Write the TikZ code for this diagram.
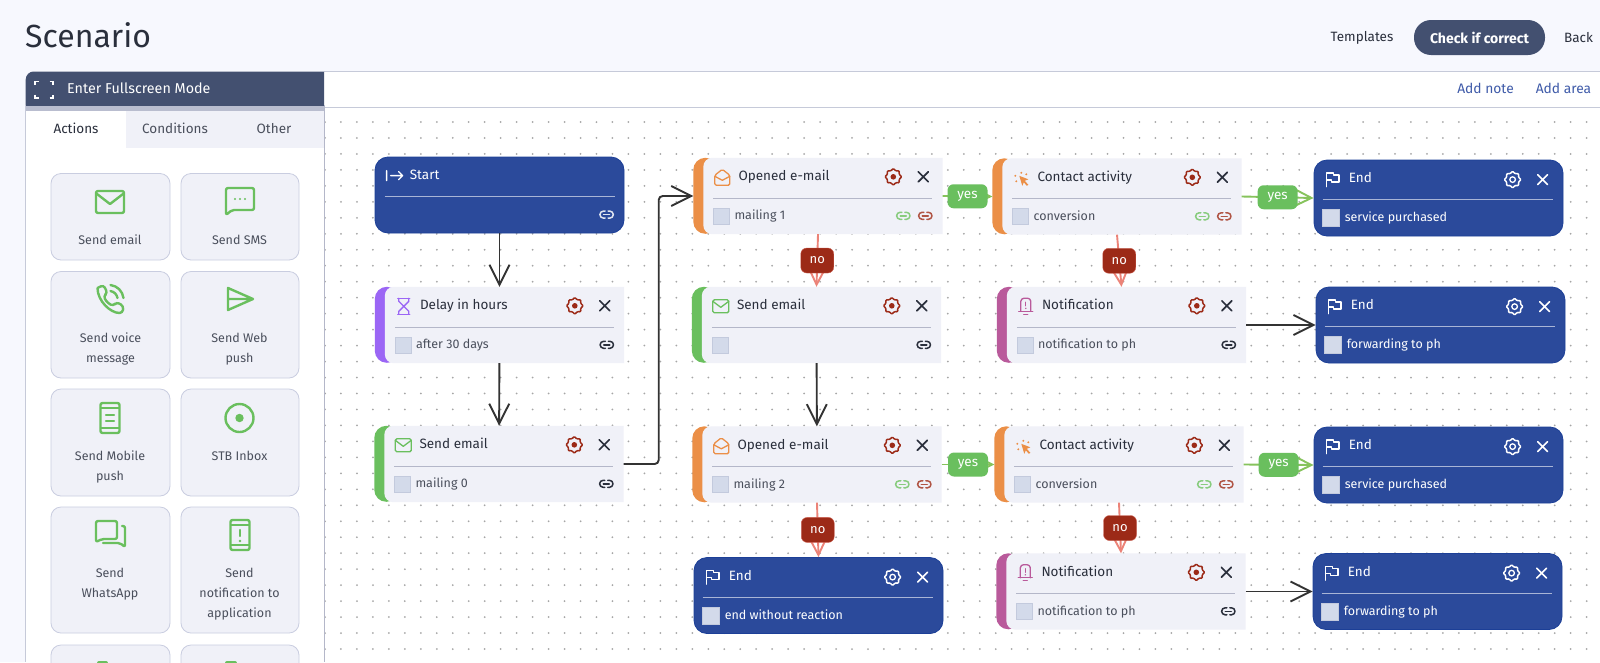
\documentclass[tikz,border=0pt]{standalone}
\usepackage{fontspec}
\setmainfont{Fira Sans}
\usetikzlibrary{arrows.meta}
\definecolor{pagebg}{HTML}{F7F8FE}
\definecolor{headbg}{HTML}{435070}
\definecolor{stripebg}{HTML}{B9BDCF}
\definecolor{edgegray}{HTML}{C6CAD9}
\definecolor{stepbg}{HTML}{F0F1F8}
\definecolor{btnedge}{HTML}{C9CDE0}
\definecolor{chkbg}{HTML}{D3DAEA}
\definecolor{chkedge}{HTML}{C3CADD}
\definecolor{inkdark}{HTML}{2A2F3C}
\definecolor{inkgray}{HTML}{4A4F5C}
\definecolor{addblue}{HTML}{3F5BA9}
\definecolor{endblue}{HTML}{2B4A9B}
\definecolor{endedge}{HTML}{1C3F97}
\definecolor{sepblue}{HTML}{A9B5D6}
\definecolor{sepgray}{HTML}{B4B7C9}
\definecolor{mailgreen}{HTML}{6ABF5E}
\definecolor{openorange}{HTML}{EB8F47}
\definecolor{delaypurple}{HTML}{9B66F5}
\definecolor{notepink}{HTML}{B95A9B}
\definecolor{noyred}{HTML}{9C2A17}
\definecolor{nosalmon}{HTML}{EC8378}
\definecolor{yesline}{HTML}{86C35C}
\definecolor{arrowink}{HTML}{333333}
\tikzset{
  x=1pt,y=-1pt,
  flowtip/.style={-{Straight Barb[length=20pt,width=20pt,line width=1.9pt]}},
  blackflow/.style={flowtip,draw=arrowink,line width=1.9pt},
  yesflow/.style={flowtip,draw=yesline,line width=1.9pt},
  noflow/.style={flowtip,draw=nosalmon,line width=1.9pt},
  yesbadge/.style={fill=mailgreen,text=white,rounded corners=6pt,minimum width=40pt,minimum height=24pt,inner sep=0pt,font=\fontsize{13.5}{15}\selectfont},
  nobadge/.style={fill=noyred,draw=nosalmon!60!noyred,line width=.4pt,text=white,rounded corners=6pt,minimum width=33pt,minimum height=25pt,inner sep=0pt,font=\fontsize{13}{15}\selectfont},
  stepbody/.style={minimum width=249pt,minimum height=76pt,inner sep=0pt},
  endbody/.style={stepbody,fill=endblue,draw=endedge,line width=.8pt,rounded corners=13pt},
  lefttext/.style={anchor=west,inner sep=0pt,text height=9pt,text depth=3pt},
  steptitle/.style={lefttext,text=inkdark,font=\fontsize{13.5}{15}\selectfont},
  stepvalue/.style={lefttext,text=inkgray,font=\fontsize{12.5}{15}\selectfont},
  endtitle/.style={steptitle,text=white},
  endvalue/.style={stepvalue,text=white},
  btntext/.style={align=center,inner sep=0pt,text=inkgray,font=\fontsize{12.5}{20}\selectfont},
  tabtext/.style={inner sep=0pt,text=inkgray,font=\fontsize{13.5}{15}\selectfont},
  toptext/.style={inner sep=0pt,text=inkdark,font=\fontsize{13.5}{15}\selectfont},
  icon/.style={line width=2.4pt,line join=round,line cap=round},
  thinicon/.style={line width=1.3pt,line join=round,line cap=round},
  % large icons of the side panel
  mailicon/.pic={
    \draw[icon,rounded corners=2pt] (-14,-11) rectangle (14,11);
    \draw[icon] (-13,-8) -- (0,2) -- (13,-8);
  },
  smsicon/.pic={
    \draw[icon,rounded corners=2pt] (-14,-12) -- (14,-12) -- (14,10) -- (-8,10) -- (-14,15) -- cycle;
    \foreach \dotx in {-5,0,5} \fill (\dotx,-1) circle (1.1);
  },
  voiceicon/.pic={
    \draw[icon,rounded corners=3pt] (-13,-11) -- (-7,-14) -- (-3,-6) -- (-7,-3) .. controls (-4,3) and (-1,5) .. (3,7) -- (6,3) -- (13,7) -- (12,14) .. controls (0,14) and (-13,2) .. (-13,-11);
    \draw[icon] (0,-14) .. controls (7,-13) and (12,-8) .. (13,-1);
    \draw[icon] (0,-8) .. controls (4,-7) and (6,-5) .. (7,-1);
  },
  webicon/.pic={
    \draw[icon] (-12,-11) -- (13,0) -- (-12,11) -- cycle (-12,0) -- (13,0);
  },
  mobileicon/.pic={
    \draw[icon,rounded corners=2pt] (-9.5,-15) rectangle (9.5,15);
    \draw[icon] (-9,-10) -- (9,-10) (-9,10) -- (9,10) (-4,-3) -- (4,-3) (-4,3) -- (4,3);
  },
  targeticon/.pic={
    \draw[icon] (0,0) circle (14);
    \fill (0,0) circle (4.2);
  },
  chaticon/.pic={
    \draw[icon,rounded corners=2pt] (-14,-13) -- (7,-13) -- (7,5) -- (-8,5) -- (-14,8) -- cycle;
    \draw[icon,rounded corners=2pt] (12,-8) -- (15,-8) -- (15,13) -- (10,9) -- (-7,9);
  },
  alerticon/.pic={
    \draw[icon,rounded corners=2pt] (-9.5,-15) rectangle (9.5,15);
    \draw[icon] (-9,-10) -- (9,-10) (-9,10) -- (9,10);
    \draw[icon] (0,-5) -- (0,1);
    \fill (0,6) circle (1.4);
  },
  % small icons of the steps
  openicon/.pic={
    \draw[thinicon,rounded corners=1.5pt] (-7.5,-2) -- (0,-8) -- (7.5,-2) -- (7.5,8) -- (-7.5,8) -- cycle;
    \draw[thinicon] (-7.5,-1) -- (0,3) -- (7.5,-1);
  },
  smailicon/.pic={
    \draw[thinicon,rounded corners=1.5pt] (-8,-6.5) rectangle (8,6.5);
    \draw[thinicon] (-8,-5) -- (0,1) -- (8,-5);
  },
  delayicon/.pic={
    \draw[thinicon] (-6,-8) -- (6,-8) (-6,8) -- (6,8);
    \draw[thinicon] (-5,-8) -- (-5,-5) -- (5,5) -- (5,8) (5,-8) -- (5,-5) -- (-5,5) -- (-5,8);
  },
  activityicon/.pic={
    \fill (-2,-2) -- (7,1.5) -- (3.5,3) -- (7,7) -- (5.5,8) -- (2.5,4.5) -- (1,8) -- cycle;
    \foreach \dotx/\doty in {-6/-2,-5/3.5,0/-5,5/-3.5} \fill (\dotx,\doty) circle (1.1);
  },
  bellicon/.pic={
    \draw[thinicon,rounded corners=2pt] (-5,5) -- (-5,-3) .. controls (-5,-7) and (-3,-8) .. (0,-8) .. controls (3,-8) and (5,-7) .. (5,-3) -- (5,5);
    \draw[thinicon] (-7,5) -- (7,5);
    \draw[thinicon] (0,-4) -- (0,-.5);
    \fill (0,2) circle (.8);
    \draw[thinicon] (-2,8) -- (2,8);
  },
  flagicon/.pic={
    \draw[thinicon,line width=1.6pt] (-6,7) -- (-6,-6.5) -- (1,-6.5) -- (1,-4.5) -- (6.5,-4.5) -- (6.5,2.5) -- (-1,2.5) -- (-1,.5) -- (-6,.5);
  },
  starticon/.pic={
    \draw[thinicon] (-8,-5) -- (-8,5) (-4,0) -- (8,0) (4,-4) -- (8,0) -- (4,4);
  },
  gearicon/.pic={
    \draw[thinicon,line width=1.5pt,rounded corners=1pt] (0:8.5)
      -- (22.5:6.3) -- (45:8.5) -- (67.5:6.3) -- (90:8.5) -- (112.5:6.3) -- (135:8.5) -- (157.5:6.3)
      -- (180:8.5) -- (202.5:6.3) -- (225:8.5) -- (247.5:6.3) -- (270:8.5) -- (292.5:6.3) -- (315:8.5) -- (337.5:6.3) -- cycle;
  },
  reddot/.pic={\fill (0,0) circle (2.8);},
  whiteo/.pic={\draw[thinicon] (0,0) circle (2.8);},
  closeicon/.pic={
    \draw[thinicon,line width=1.6pt] (-5,-5) -- (5,5) (-5,5) -- (5,-5);
  },
  linkicon/.pic={
    \draw[thinicon,line width=1.5pt] (-1.5,-3.5) -- (-3.2,-3.5) arc (270:90:3.5) -- (-1.5,3.5);
    \draw[thinicon,line width=1.5pt] (1.5,-3.5) -- (3.2,-3.5) arc (-90:90:3.5) -- (1.5,3.5);
    \draw[thinicon,line width=1.5pt] (-3,0) -- (3,0);
  },
}
% a step with a coloured bar on its left
\newcommand{\stepnode}[7]{%
  \node[stepbody] (#1) at (#2) {};
  \fill[#3,rounded corners=12pt] (#1.north west) rectangle ++(24,76);
  \fill[stepbg] ([xshift=30pt]#1.north west) -- (#1.north east) -- (#1.south east)
    -- ([xshift=30pt]#1.south west) [rounded corners=9pt] -- ([xshift=10pt]#1.south west)
    -- ([xshift=10pt]#1.north west) -- cycle;
  \pic[#3] at ([shift={(29,19.5)}]#1.north west) {#4};
  \node[steptitle] (#1title) at ([shift={(45,20)}]#1.north west) {#5};
  \pic[noyred] at ([shift={(200,19)}]#1.north west) {gearicon};
  \pic[noyred] at ([shift={(200,19)}]#1.north west) {reddot};
  \pic[inkdark] at ([shift={(230,19)}]#1.north west) {closeicon};
  \draw[sepgray] ([shift={(20,40)}]#1.north west) -- ([shift={(239,40)}]#1.north west);
  \node[fill=chkbg,draw=chkedge,line width=.4pt,minimum size=16pt,inner sep=0pt] (#1box)
    at ([shift={(28,58)}]#1.north west) {};
  \node[stepvalue] (#1value) at ([shift={(41,59)}]#1.north west) {#6};
  \pic[#7] at ([shift={(232,58)}]#1.north west) {linkicon};
}
% a condition has two links
\newcommand{\condnode}[6]{%
  \stepnode{#1}{#2}{#3}{#4}{#5}{#6}{noyred!80!white}
  \pic[mailgreen!80!white] at ([shift={(210,58)}]#1.north west) {linkicon};
}
\newcommand{\finishnode}[3]{%
  \node[endbody] (#1) at (#2) {};
  \pic[white] at ([shift={(19,20)}]#1.north west) {flagicon};
  \node[endtitle] (#1title) at ([shift={(35,20)}]#1.north west) {End};
  \pic[white] at ([shift={(199,20)}]#1.north west) {gearicon};
  \pic[white] at ([shift={(199,20)}]#1.north west) {whiteo};
  \pic[white] at ([shift={(229,20)}]#1.north west) {closeicon};
  \draw[sepblue] ([shift={(9,40)}]#1.north west) -- ([shift={(239,40)}]#1.north west);
  \node[fill=chkbg,draw=chkedge,line width=.4pt,minimum size=17pt,inner sep=0pt] (#1box)
    at ([shift={(17.5,58.5)}]#1.north west) {};
  \node[endvalue] (#1value) at ([shift={(31,59)}]#1.north west) {#3};
}
\newcommand{\actionbtn}[7]{%
  \fill[stepbg,draw=btnedge,line width=.8pt,rounded corners=10pt] (#2) rectangle (#3);
  \pic[mailgreen] at (#4) {#5};
  \node[btntext,anchor=north] (#1) at (#6) {#7};
}
\begin{document}
\begin{tikzpicture}
  \useasboundingbox (0,0) rectangle (1600,662);
  \clip (0,0) rectangle (1600,662);
  \fill[pagebg] (0,0) rectangle (1600,662);
  %
  % Page header
  \node[inner sep=0pt,anchor=west,text=inkdark,font=\fontsize{32}{36}\selectfont] (pagetitle) at (25,35.5) {Scenario};
  \node[toptext] (templates) at (1362,38) {Templates};
  \node[fill=headbg,text=white,rounded corners=17pt,minimum width=131pt,minimum height=35pt,inner sep=0pt,
    font=\fontsize{14}{15}\selectfont\bfseries] (checkbtn) at (1479.5,37.5) {Check if correct};
  \node[toptext] (back) at (1578.5,37.5) {Back};
  %
  % Canvas
  \fill[white] (324,71.5) rectangle (1600,662);
  \draw[edgegray,line width=.8pt] (324,71.5) -- (1600,71.5);
  \draw[edgegray,line width=.8pt] (324,107.5) -- (1600,107.5);
  \node[inner sep=0pt,text=addblue,font=\fontsize{13.8}{15}\selectfont] (addnote) at (1485.5,88) {Add note};
  \node[inner sep=0pt,text=addblue,font=\fontsize{13.8}{15}\selectfont] (addarea) at (1563.5,88) {Add area};
  \foreach \i in {0,...,79}
    \foreach \j in {0,...,33}
      \fill[gray!70] ({325+15.97*\i},{122+15.97*\j}) circle (1);
  %
  % Side panel
  \fill[white] (25.7,105) rectangle (324,662);
  \fill[headbg] (324,106) -- (25.7,106) [rounded corners=8pt] -- (25.7,71.5) [sharp corners] -- (324,71.5) -- cycle;
  \fill[stripebg] (25.7,105.7) rectangle (324,110.7);
  \fill[stepbg] (126,110.7) rectangle (324,148);
  \draw[edgegray,line width=.8pt] (25.7,105) -- (25.7,662);
  \draw[sepgray,line width=.8pt] (324,105) -- (324,662);
  \draw[white,line width=1.6pt]
    (35,85) -- (35,81.5) -- (38.5,81.5) (49.5,81.5) -- (53,81.5) -- (53,85)
    (35,94.5) -- (35,98) -- (38.5,98) (49.5,98) -- (53,98) -- (53,94.5);
  \node[anchor=west,inner sep=0pt,text=white,font=\fontsize{14.3}{15}\selectfont] (fullscreen) at (67,88.5) {Enter Fullscreen Mode};
  \node[tabtext,text=inkdark] (tabactions) at (76,128.5) {Actions};
  \node[tabtext] (tabconditions) at (175,128.5) {Conditions};
  \node[tabtext] (tabother) at (274,128.5) {Other};
  %
  % Action buttons
  \actionbtn{btnmail}{51,173.5}{170,260}{110,202}{mailicon}{110,235}{Send email}
  \actionbtn{btnsms}{181,173.5}{299,260}{240,200}{smsicon}{239.5,235}{Send SMS}
  \actionbtn{btnvoice}{51,271.5}{170,378}{110.5,299}{voiceicon}{110.5,333}{Send voice\\message}
  \actionbtn{btnweb}{181,271.5}{299,378}{240,299}{webicon}{239.5,333}{Send Web\\push}
  \actionbtn{btnmobile}{51,389}{170,496}{110,418}{mobileicon}{110,450.5}{Send Mobile\\push}
  \actionbtn{btnstb}{181,389}{299,496}{239.5,418}{targeticon}{239.5,450.5}{STB Inbox}
  \actionbtn{btnwhats}{51,507}{170,633}{110,534}{chaticon}{110,567.5}{Send\\WhatsApp}
  \actionbtn{btnpush}{181,507}{299,633}{240,535}{alerticon}{239.5,567.5}{Send\\notification to\\application}
  \fill[stepbg,draw=btnedge,line width=.8pt,rounded corners=10pt] (51,645) rectangle (170,700);
  \fill[stepbg,draw=btnedge,line width=.8pt,rounded corners=10pt] (181,645) rectangle (299,700);
  \fill[mailgreen,rounded corners=2pt] (97,661) rectangle (108,670);
  \fill[mailgreen,rounded corners=2pt] (225,661) rectangle (237,670);
  %
  % First column
  \node[endbody] (start) at (499.5,195) {};
  \pic[white] at ([shift={(20,19)}]start.north west) {starticon};
  \node[endtitle] (starttitle) at ([shift={(35,20)}]start.north west) {Start};
  \draw[sepblue,line width=.8pt] ([shift={(10,40)}]start.north west) -- ([shift={(240,40)}]start.north west);
  \pic[white!85!endblue] at ([shift={(232,58)}]start.north west) {linkicon};
  \stepnode{delay}{499.5,325}{delaypurple}{delayicon}{Delay in hours}{after 30 days}{inkdark}
  \stepnode{sendfirst}{499,464}{mailgreen}{smailicon}{Send email}{mailing 0}{inkdark}
  %
  % Second column
  \condnode{openedone}{818,196}{openorange}{openicon}{Opened e-mail}{mailing 1}
  \stepnode{sendsecond}{816.5,325}{mailgreen}{smailicon}{Send email}{}{inkdark}
  \condnode{openedtwo}{817,464.5}{openorange}{openicon}{Opened e-mail}{mailing 2}
  \finishnode{endnone}{818.5,595.5}{end without reaction}
  %
  % Third column
  \condnode{contactone}{1117,196.5}{openorange}{activityicon}{Contact activity}{conversion}
  \stepnode{noteone}{1121.5,325}{notepink}{bellicon}{Notification}{notification to ph}{inkdark}
  \condnode{contacttwo}{1119,464.5}{openorange}{activityicon}{Contact activity}{conversion}
  \stepnode{notetwo}{1121,591.5}{notepink}{bellicon}{Notification}{notification to ph}{inkdark}
  %
  % Fourth column
  \finishnode{endone}{1438.5,198}{service purchased}
  \finishnode{endtwo}{1440.5,325}{forwarding to ph}
  \finishnode{endthree}{1438.5,465}{service purchased}
  \finishnode{endfour}{1437.5,591.5}{forwarding to ph}
  %
  % Connectors
  \draw[blackflow] (start) -- (delay);
  \draw[blackflow] (delay) -- (sendfirst);
  \draw[blackflow,rounded corners=4pt] (sendfirst.east) -- ++(35,0) |- (openedone.west);
  \draw[blackflow] (sendsecond) -- (openedtwo);
  \draw[blackflow] (noteone.east) -- (endtwo.west);
  \draw[blackflow] (notetwo.east) -- (endfour.west);
  \draw[noflow] (openedone.south) -- node[nobadge] (nofirst) {no} (sendsecond.north);
  \draw[noflow] (contactone.south) -- node[nobadge] (nosecond) {no} (noteone.north);
  \draw[noflow] (openedtwo.south) -- node[nobadge] (nothird) {no} (endnone.north);
  \draw[noflow] (contacttwo.south) -- node[nobadge] (nofourth) {no} (notetwo.north);
  \draw[yesflow] (openedone.east) -- node[yesbadge] (yesfirst) {yes} (contactone.west);
  \draw[yesflow] (contactone.east) -- node[yesbadge] (yessecond) {yes} (endone.west);
  \draw[yesflow] (openedtwo.east) -- node[yesbadge] (yesthird) {yes} (contacttwo.west);
  \draw[yesflow] (contacttwo.east) -- node[yesbadge] (yesfourth) {yes} (endthree.west);
  %
\end{tikzpicture}
\end{document}
